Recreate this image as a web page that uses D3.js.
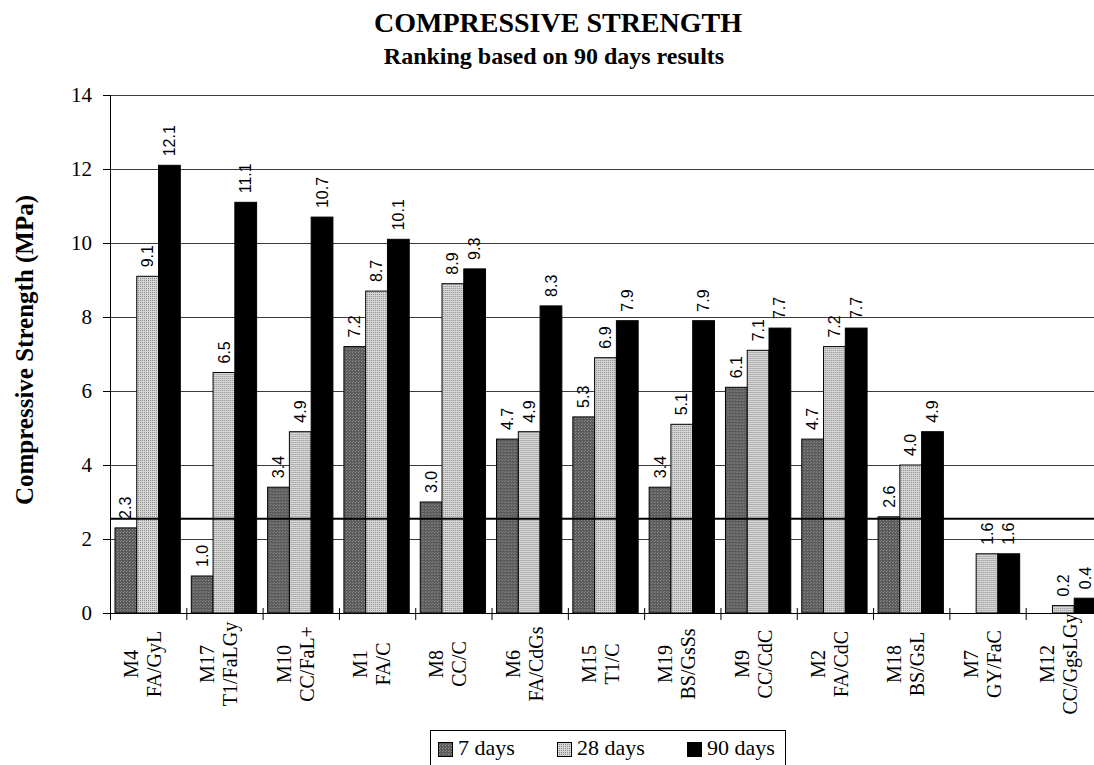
<!DOCTYPE html>
<html>
<head>
<meta http-equiv="Content-Type" content="text/html; charset=UTF-8">
<style>
body { margin: 0; background: #fff; }
svg { display: block; }
.serif { font-family: "Liberation Serif", "Times New Roman", serif; }
.axis path, .axis line { stroke: #000; }
.grid line { stroke: #3a3a3a; stroke-width: 1px; }
</style>
</head>
<body>
<svg width="1094" height="765"></svg>
<script src="https://cdn.jsdelivr.net/npm/d3@7"></script>
<script>

var categories = ["M4", "M17", "M10", "M1", "M8", "M6", "M15", "M19", "M9", "M2", "M18", "M7", "M12"];
var mixes = ["FA/GyL", "T1/FaLGy", "CC/FaL+", "FA/C", "CC/C", "FA/CdGs", "T1/C", "BS/GsSs", "CC/CdC", "FA/CdC", "BS/GsL", "GY/FaC", "CC/GgsLGy"];
var series = ["7 days", "28 days", "90 days"];
var days7  = [2.3, 1.0, 3.4, 7.2, 3.0, 4.7, 5.3, 3.4, 6.1, 4.7, 2.6, null, null];
var days28 = [9.1, 6.5, 4.9, 8.7, 8.9, 4.9, 6.9, 5.1, 7.1, 7.2, 4.0, 1.6, 0.2];
var days90 = [12.1, 11.1, 10.7, 10.1, 9.3, 8.3, 7.9, 7.9, 7.7, 7.7, 4.9, 1.6, 0.4];
var yTicks = [0, 2, 4, 6, 8, 10, 12, 14];
var refLine = 2.55;

var svg = d3.select("svg");

// fill patterns for the three ages
var defs = svg.append("defs");
var p7 = defs.append("pattern").attr("id", "pat7").attr("patternUnits", "userSpaceOnUse")
    .attr("width", 3).attr("height", 3);
p7.append("rect").attr("width", 3).attr("height", 3).attr("fill", "#5a5a5a");
p7.append("rect").attr("x", 1).attr("y", 1).attr("width", 1).attr("height", 1).attr("fill", "#959595");
p7.append("rect").attr("x", 2).attr("y", 0).attr("width", 1).attr("height", 1).attr("fill", "#848484");

var p28 = defs.append("pattern").attr("id", "pat28").attr("patternUnits", "userSpaceOnUse")
    .attr("width", 2).attr("height", 2);
p28.append("rect").attr("width", 2).attr("height", 2).attr("fill", "#d6d6d6");
p28.append("rect").attr("width", 1).attr("height", 1).attr("fill", "#8c8c8c");

var fills = { "7 days": "url(#pat7)", "28 days": "url(#pat28)", "90 days": "#000" };

var data = categories.map(function(c, i) {
  return { cat: c, mix: mixes[i], values: [
    { key: "7 days", v: days7[i] },
    { key: "28 days", v: days28[i] },
    { key: "90 days", v: days90[i] }
  ]};
});

var x0 = d3.scaleBand().domain(categories).range([110, 1102]);
var x1 = d3.scaleBand().domain(series).range([5, x0.bandwidth() - 6]);
var y = d3.scaleLinear().domain([0, 14]).range([613, 95]);

// horizontal grid
svg.append("g").attr("class", "grid")
  .selectAll("line").data(yTicks.filter(function(d) { return d > 0; }))
  .enter().append("line")
    .attr("x1", 110).attr("x2", 1102)
    .attr("y1", function(d) { return y(d) + 0.5; })
    .attr("y2", function(d) { return y(d) + 0.5; });

// bars
var groups = svg.append("g").selectAll("g").data(data).enter().append("g")
    .attr("transform", function(d) { return "translate(" + x0(d.cat) + ",0)"; });

groups.selectAll("rect").data(function(d) { return d.values.filter(function(v) { return v.v != null; }); })
  .enter().append("rect")
    .attr("x", function(d) { return x1(d.key); })
    .attr("y", function(d) { return y(d.v); })
    .attr("width", x1.bandwidth())
    .attr("height", function(d) { return y(0) - y(d.v); })
    .attr("fill", function(d) { return fills[d.key]; })
    .attr("stroke", "#000")
    .attr("stroke-width", 1);

groups.selectAll("text.val").data(function(d) { return d.values.filter(function(v) { return v.v != null; }); })
  .enter().append("text")
    .attr("class", "val")
    .attr("transform", function(d) {
      return "translate(" + (x1(d.key) + x1.bandwidth() / 2) + "," + (y(d.v) - 9) + ") rotate(-90)";
    })
    .attr("dy", "0.35em")
    .style("font-family", "'Liberation Sans', Arial, sans-serif")
    .style("font-size", "16px")
    .text(function(d) { return d.v.toFixed(1); });

// reference line across the bars
svg.append("line")
    .attr("x1", 110).attr("x2", 1102)
    .attr("y1", y(refLine)).attr("y2", y(refLine))
    .attr("stroke", "#000").attr("stroke-width", 2);

// y axis
var yAxis = svg.append("g").attr("class", "axis serif")
    .attr("transform", "translate(110,0)")
    .call(d3.axisLeft(y).tickValues(yTicks).tickFormat(d3.format("d")).tickSize(7).tickPadding(11));
yAxis.selectAll("text").style("font-size", "21px").style("font-family", "'Liberation Serif', serif");
yAxis.select(".domain").attr("d", "M0.5," + y(14) + "V" + y(0));

// x axis: line and crossing ticks at band edges
svg.append("line").attr("x1", 110).attr("x2", 1102)
    .attr("y1", y(0) + 0.5).attr("y2", y(0) + 0.5).attr("stroke", "#000");
svg.append("g").selectAll("line").data(categories.concat(["end"])).enter().append("line")
    .attr("x1", function(d, i) { return 110 + i * x0.bandwidth() + 0.5; })
    .attr("x2", function(d, i) { return 110 + i * x0.bandwidth() + 0.5; })
    .attr("y1", y(0) - 5).attr("y2", y(0) + 7)
    .attr("stroke", "#000");

// category labels, two lines rotated
var lab = svg.append("g").selectAll("text").data(data).enter().append("text")
    .attr("class", "serif")
    .attr("transform", function(d) { return "translate(" + (x0(d.cat) + x0.bandwidth() / 2) + ",664) rotate(-90)"; })
    .attr("text-anchor", "middle")
    .style("font-size", "20px");
lab.append("tspan").attr("x", 0).attr("y", -10).text(function(d) { return d.cat; });
lab.append("tspan").attr("x", 0).attr("y", 13).text(function(d) { return d.mix; });

// titles
svg.append("text").attr("class", "serif")
    .attr("x", 558).attr("y", 32).attr("text-anchor", "middle")
    .style("font-size", "28px").style("font-weight", "bold")
    .text("COMPRESSIVE STRENGTH");
svg.append("text").attr("class", "serif")
    .attr("x", 554).attr("y", 64).attr("text-anchor", "middle")
    .style("font-size", "24px").style("font-weight", "bold")
    .text("Ranking based on 90 days results");
svg.append("text").attr("class", "serif")
    .attr("transform", "translate(33,350) rotate(-90)")
    .attr("text-anchor", "middle")
    .style("font-size", "25px").style("font-weight", "bold")
    .text("Compressive Strength (MPa)");

// legend
var legend = svg.append("g");
legend.append("rect").attr("x", 430.5).attr("y", 730.5).attr("width", 355).attr("height", 40)
    .attr("fill", "none").attr("stroke", "#000");
var legX = [438, 557, 687];
var li = legend.selectAll("g.item").data(series).enter().append("g")
    .attr("transform", function(d, i) { return "translate(" + legX[i] + ",0)"; });
li.append("rect").attr("x", 0.5).attr("y", 742.5).attr("width", 14).attr("height", 14)
    .attr("fill", function(d) { return fills[d]; }).attr("stroke", "#000");
li.append("text").attr("class", "serif").attr("x", 20).attr("y", 755)
    .style("font-size", "22px").text(function(d) { return d; });

</script>
</body>
</html>
